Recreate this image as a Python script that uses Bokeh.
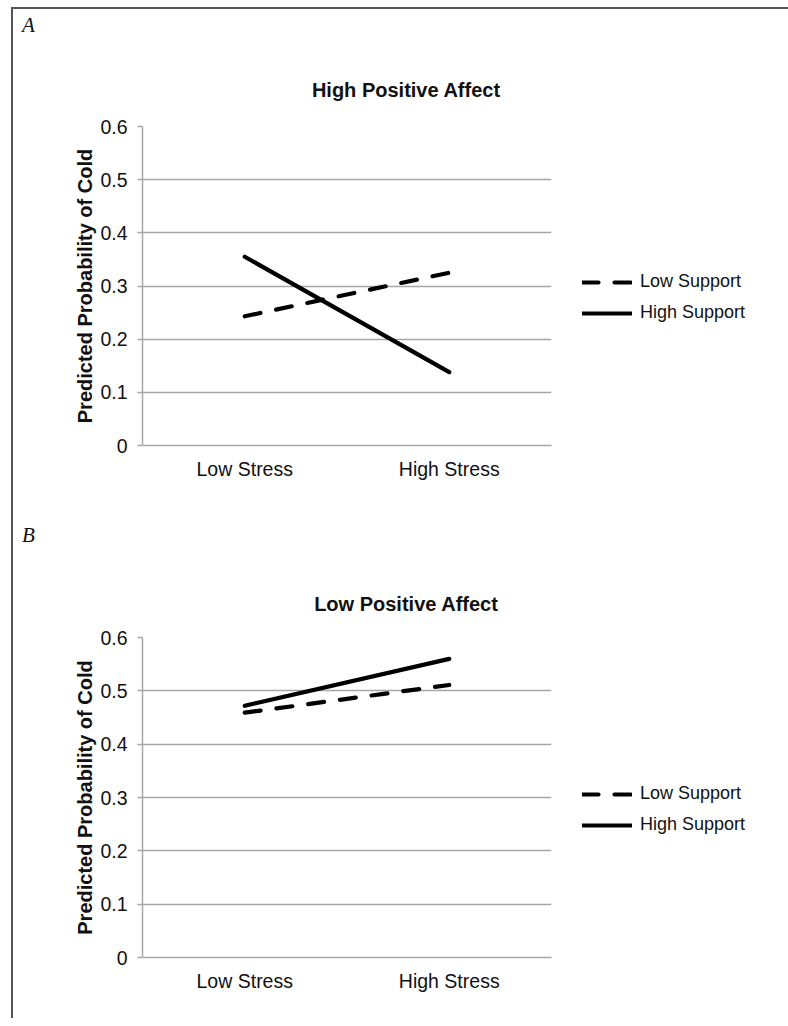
from bokeh.plotting import figure
from bokeh.layouts import column, row
from bokeh.models import (Range1d, FactorRange, FixedTicker, Legend, LegendItem, Div)
from bokeh.embed import file_html
from bokeh.resources import INLINE

categories = ["Low Stress", "High Stress"]
y_ticks = [0, 0.1, 0.2, 0.3, 0.4, 0.5, 0.6]
y_tick_labels = ["0", "0.1", "0.2", "0.3", "0.4", "0.5", "0.6"]
series_names = ["Low Support", "High Support"]

# Panel A: High Positive Affect
a_low_support = [0.243, 0.325]
a_high_support = [0.355, 0.138]
# Panel B: Low Positive Affect
b_low_support = [0.459, 0.511]
b_high_support = [0.472, 0.560]

FONT = "Liberation Sans"
GRID = "#a6a6a6"
TXT = "#111111"
W = 775
PW = 543          # plot figure width (129 left + 409 frame + 5 right)
LW = W - PW       # legend figure width
DASH = "16 16"
LWID = 4.2


def make_panel(low_vals, high_vals, height, top, bottom):
    p = figure(width=PW, height=height, x_range=FactorRange(*categories),
               y_range=Range1d(0, 0.6), output_backend="svg", toolbar_location=None,
               min_border_left=129, min_border_right=PW - 129 - 409,
               min_border_top=top, min_border_bottom=bottom)
    p.outline_line_color = None
    p.background_fill_color = "white"
    p.border_fill_color = "white"

    p.line(categories, low_vals, line_color="black", line_width=LWID,
           line_dash=DASH, line_cap="round")
    p.line(categories, high_vals, line_color="black", line_width=LWID,
           line_cap="round")

    p.xgrid.grid_line_color = None
    p.ygrid.ticker = FixedTicker(ticks=y_ticks)
    p.ygrid.grid_line_color = GRID
    p.ygrid.grid_line_width = 1.5

    ya = p.yaxis[0]
    ya.ticker = FixedTicker(ticks=y_ticks)
    ya.major_label_overrides = {t_: l_ for t_, l_ in zip(y_ticks, y_tick_labels)}
    ya.axis_label = "Predicted Probability of Cold"
    ya.axis_label_text_font = FONT
    ya.axis_label_text_font_size = "20px"
    ya.axis_label_text_font_style = "bold"
    ya.axis_label_text_color = TXT
    ya.axis_label_standoff = 1
    ya.major_label_text_font = FONT
    ya.major_label_text_font_size = "19.5px"
    ya.major_label_text_color = TXT
    ya.major_label_standoff = 10
    ya.axis_line_color = GRID
    ya.axis_line_width = 1.5
    ya.major_tick_line_color = GRID
    ya.major_tick_line_width = 1.5
    ya.major_tick_out = 5
    ya.major_tick_in = 0
    ya.minor_tick_line_color = None

    xa = p.xaxis[0]
    xa.axis_line_color = GRID
    xa.axis_line_width = 1.5
    xa.major_tick_line_color = None
    xa.minor_tick_line_color = None
    xa.major_label_text_font = FONT
    xa.major_label_text_font_size = "19.5px"
    xa.major_label_text_color = TXT
    xa.major_label_standoff = 6
    return p


def make_legend(low_vals, high_vals, height, y_off):
    # the series are drawn here too, but the y range keeps them out of view;
    # only the legend of this figure is visible
    q = figure(width=LW, height=height, x_range=FactorRange(*categories),
               y_range=Range1d(10, 11),
               output_backend="svg", toolbar_location=None,
               x_axis_type=None, y_axis_type=None,
               min_border=0, min_border_left=0, min_border_right=0,
               min_border_top=0, min_border_bottom=0)
    q.outline_line_color = None
    q.background_fill_color = "white"
    q.border_fill_color = "white"
    r_low = q.line(categories, low_vals, line_color="black", line_width=LWID,
                   line_dash=DASH, line_cap="round")
    r_high = q.line(categories, high_vals, line_color="black", line_width=LWID,
                    line_cap="round")
    legend = Legend(items=[LegendItem(label=series_names[0], renderers=[r_low]),
                           LegendItem(label=series_names[1], renderers=[r_high])],
                    location=(26, y_off), padding=0, margin=0, spacing=10,
                    glyph_width=50, glyph_height=20, label_height=20,
                    label_standoff=8, border_line_color=None,
                    background_fill_alpha=0,
                    label_text_font=FONT, label_text_font_size="18px",
                    label_text_color=TXT)
    q.add_layout(legend, "center")
    return q


def header_div(letter, title, height, letter_top, title_top):
    html = (
        f'<div style="position:relative;height:0;left:9px;top:{letter_top}px;'
        f'font-family:\'Liberation Serif\';font-style:italic;font-size:21px;'
        f'line-height:24px;color:{TXT};white-space:nowrap;">{letter}</div>'
        f'<div style="position:relative;height:0;left:193px;top:{title_top}px;'
        f'width:400px;text-align:center;font-family:\'Liberation Sans\';'
        f'font-weight:bold;font-size:20px;line-height:24px;color:{TXT};'
        f'white-space:nowrap;">{title}</div>'
    )
    return Div(text=html, width=W, height=height,
               styles={"margin": "0", "padding": "0", "overflow": "visible"})


dA = header_div("A", "High Positive Affect", 105, 4, 69)
pA = make_panel(a_low_support, a_high_support, 402, 12, 71)
lA = make_legend(a_low_support, a_high_support, 402, 122)

dB = header_div("B", "Low Positive Affect", 109, 7, 76)
pB = make_panel(b_low_support, b_high_support, 393, 12, 61)
lB = make_legend(b_low_support, b_high_support, 393, 122)

layout = column(dA, row(pA, lA, spacing=0), dB, row(pB, lB, spacing=0), spacing=0,
                styles={"border-top": "2px solid #555555",
                        "border-left": "2px solid #555555",
                        "margin-left": "11px", "margin-top": "7px"})

open("out.html", "w").write(file_html(layout, INLINE))
